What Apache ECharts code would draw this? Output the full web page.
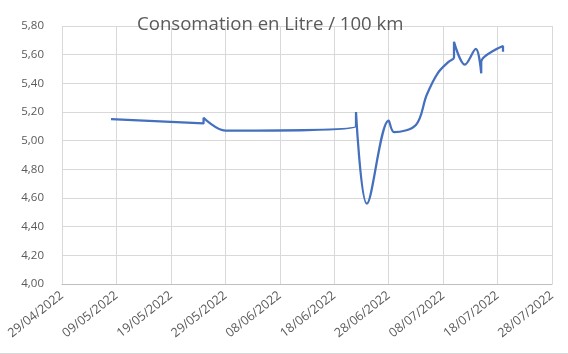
<!DOCTYPE html>
<html>
<head>
<meta charset="utf-8">
<script src="https://cdn.jsdelivr.net/npm/echarts@6/dist/echarts.min.js"></script>
<style>
html,body{margin:0;padding:0;background:#fff;}
#chart{width:568px;height:354px;box-sizing:border-box;border-bottom:1px solid #d9d9d9;}
</style>
</head>
<body>
<div id="chart"></div>
<script>
// Data
const dates = ['08/05/2022','25/05/2022','25/05/2022','29/05/2022','22/06/2022','22/06/2022','24/06/2022','28/06/2022','29/06/2022','03/07/2022','05/07/2022','07/07/2022','09/07/2022','10/07/2022','10/07/2022','12/07/2022','14/07/2022','15/07/2022','15/07/2022','19/07/2022','19/07/2022'];
const values = [5.15,5.12,5.16,5.07,5.10,5.20,4.56,5.14,5.06,5.11,5.32,5.47,5.55,5.58,5.69,5.53,5.64,5.47,5.55,5.66,5.62];
const xMin = '29/04/2022';
const xMax = '28/07/2022';
const xStepDays = 10;
const yMin = 4.0, yMax = 5.8, yStep = 0.2;
const titleText = 'Consomation en Litre / 100 km';

const EPOCH = Date.UTC(1899, 11, 30);
function toSerial(s) {
  const [d, m, y] = s.split('/').map(Number);
  return Math.round((Date.UTC(y, m - 1, d) - EPOCH) / 86400000);
}
function fromSerial(n) {
  const dt = new Date(EPOCH + n * 86400000);
  const dd = String(dt.getUTCDate()).padStart(2, '0');
  const mm = String(dt.getUTCMonth() + 1).padStart(2, '0');
  return dd + '/' + mm + '/' + dt.getUTCFullYear();
}
const seriesData = dates.map((d, i) => [toSerial(d), values[i]]);

const font = '"Open Sans", sans-serif';
const chart = echarts.init(document.getElementById('chart'), null, {renderer: 'canvas'});
chart.setOption({
  animation: false,
  backgroundColor: '#fff',
  title: {
    text: titleText,
    left: 132,
    top: 10,
    textStyle: {fontFamily: font, fontSize: 18.6, fontWeight: 'normal', color: '#595959'}
  },
  grid: {left: 62, right: 16, top: 26, bottom: 69, containLabel: false},
  xAxis: {
    type: 'value',
    min: toSerial(xMin),
    max: toSerial(xMax),
    interval: xStepDays,
    axisLine: {show: true, lineStyle: {color: '#bfbfbf', width: 1}},
    axisTick: {show: false},
    splitLine: {show: true, lineStyle: {color: '#d9d9d9', width: 1}},
    axisLabel: {
      rotate: 38,
      margin: 10,
      fontFamily: font,
      fontSize: 12.5,
      color: '#595959',
      formatter: v => fromSerial(v)
    }
  },
  yAxis: {
    type: 'value',
    min: yMin,
    max: yMax,
    interval: yStep,
    axisLine: {show: false},
    axisTick: {show: false},
    splitLine: {show: true, lineStyle: {color: '#d9d9d9', width: 1}},
    axisLabel: {
      margin: 18,
      fontFamily: font,
      fontSize: 11.5,
      color: '#595959',
      formatter: v => v.toFixed(2).replace('.', ',')
    }
  },
  series: [{
    type: 'line',
    data: seriesData,
    smooth: 0.35,
    symbol: 'none',
    lineStyle: {color: '#4470BE', width: 2.25}
  }]
});
</script>
</body>
</html>
